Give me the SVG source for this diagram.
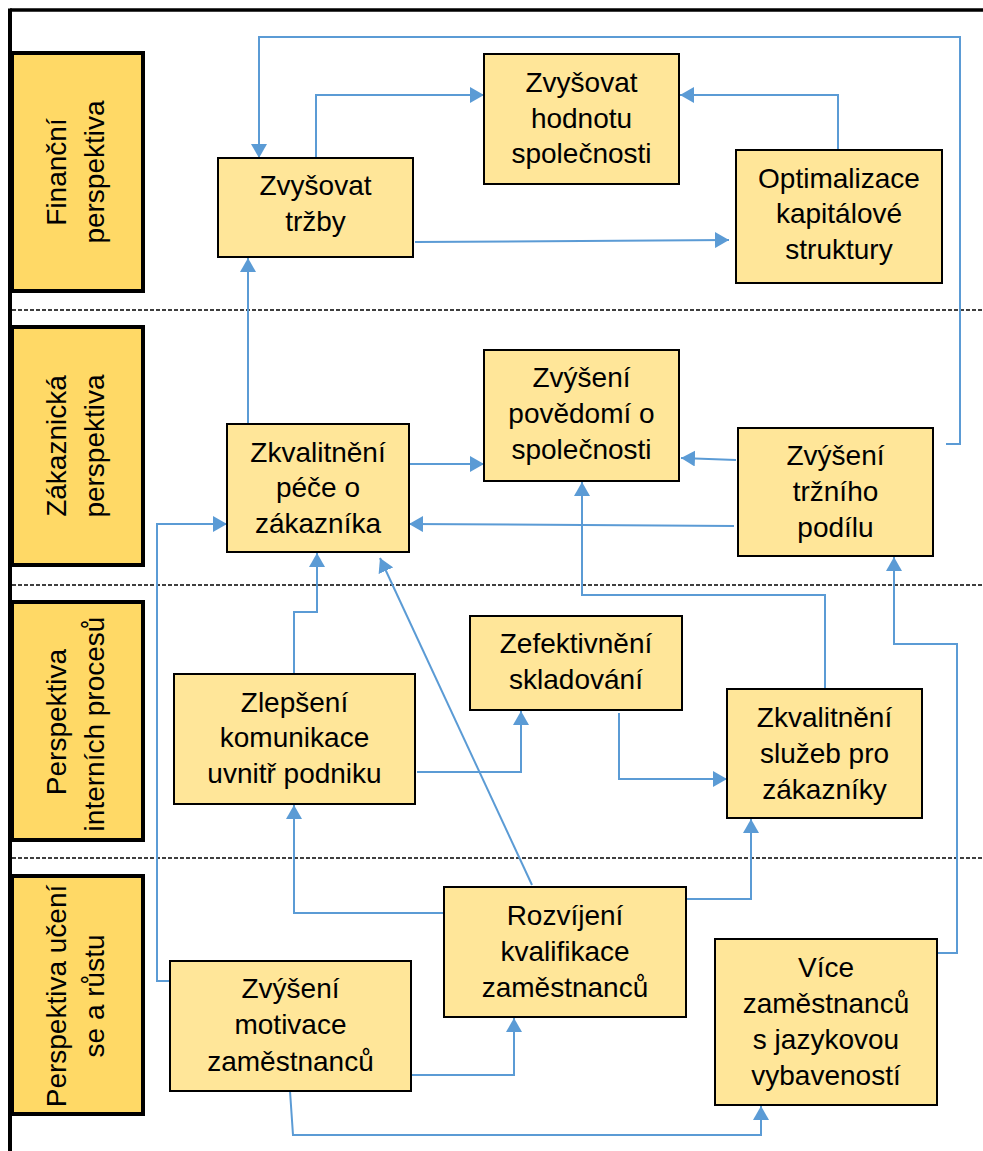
<svg xmlns="http://www.w3.org/2000/svg" width="983" height="1151" viewBox="0 0 983 1151">
  <style>
    .lane { fill: #FFD966; stroke: #000; stroke-width: 4; }
    .node rect { fill: #FFE699; stroke: #000; stroke-width: 2; }
    text { font-family: "Liberation Sans", Arial, sans-serif; font-size: 28px; fill: #000; text-anchor: middle; }
    .sep { stroke: #000; stroke-width: 1.4; stroke-dasharray: 4 2; fill: none; }
    .frame { stroke: #000; fill: none; }
    #connectors path { fill: none; stroke: #5B9BD5; stroke-width: 2; marker-end: url(#arrow); }
  </style>
  <defs>
    <marker id="arrow" viewBox="0 0 14 16" refX="14" refY="8" markerWidth="14" markerHeight="16" markerUnits="userSpaceOnUse" orient="auto">
      <path d="M0,0 L14,8 L0,16 z" fill="#5B9BD5"/>
    </marker>
  </defs>
  <rect width="983" height="1151" fill="#fff"/>

  <!-- outer frame -->
  <line class="frame" x1="10" y1="10" x2="983" y2="10" stroke-width="3.5"/>
  <line class="frame" x1="10" y1="8.5" x2="10" y2="1151" stroke-width="4"/>

  <!-- dashed lane separators -->
  <line class="sep" x1="12" y1="310" x2="983" y2="310"/>
  <line class="sep" x1="12" y1="585" x2="983" y2="585"/>
  <line class="sep" x1="12" y1="858" x2="983" y2="858"/>

  <!-- perspective labels -->
  <g id="lane-financni">
    <rect class="lane" x="12" y="53" width="131" height="238"/>
    <text transform="translate(66,172) rotate(-90)">Finanční</text>
    <text transform="translate(104,172) rotate(-90)">perspektiva</text>
  </g>
  <g id="lane-zakaznicka">
    <rect class="lane" x="12" y="327" width="131" height="238"/>
    <text transform="translate(66,446) rotate(-90)">Zákaznická</text>
    <text transform="translate(104,446) rotate(-90)">perspektiva</text>
  </g>
  <g id="lane-interni">
    <rect class="lane" x="12" y="602" width="131" height="238"/>
    <text transform="translate(66,722) rotate(-90)">Perspektiva</text>
    <text transform="translate(104,724) rotate(-90)">interních procesů</text>
  </g>
  <g id="lane-uceni">
    <rect class="lane" x="12" y="876" width="131" height="238"/>
    <text transform="translate(66,996) rotate(-90)">Perspektiva učení</text>
    <text transform="translate(104,996) rotate(-90)">se a růstu</text>
  </g>

  <!-- connectors -->
  <g id="connectors">
    <path d="M946,444 H960 V37 H259 V158"/>
    <path d="M316,158 V95 H484"/>
    <path d="M415,242 L729,240"/>
    <path d="M838,150 V95 H680"/>
    <path d="M248,424 V258"/>
    <path d="M409,464 H484"/>
    <path d="M736,460 L681,458"/>
    <path d="M734,526 L409,524"/>
    <path d="M170,981 H157 V524 H227"/>
    <path d="M294,674 V612 H317 V553"/>
    <path d="M532,885 L380,558"/>
    <path d="M825,689 V595 H582 V482"/>
    <path d="M937,953 H957 V644 H894 V557"/>
    <path d="M417,772 H521 V711"/>
    <path d="M619,713 V779 H727"/>
    <path d="M444,913 H294 V805"/>
    <path d="M685,899 H751 V819"/>
    <path d="M411,1075 H514 V1018"/>
    <path d="M290,1091 L293,1135 H761 V1106"/>
  </g>

  <!-- nodes -->
  <g id="n-trzby" class="node">
    <rect x="218" y="158" width="195" height="99"/>
    <text x="315.5" y="195">Zvyšovat</text>
    <text x="315.5" y="231">tržby</text>
  </g>
  <g id="n-hodnota" class="node">
    <rect x="484" y="54" width="195" height="130"/>
    <text x="581.5" y="92">Zvyšovat</text>
    <text x="581.5" y="128">hodnotu</text>
    <text x="581.5" y="163">společnosti</text>
  </g>
  <g id="n-kapital" class="node">
    <rect x="736" y="150" width="206" height="133"/>
    <text x="839" y="188">Optimalizace</text>
    <text x="839" y="223">kapitálové</text>
    <text x="839" y="259">struktury</text>
  </g>
  <g id="n-pece" class="node">
    <rect x="227" y="424" width="182" height="128"/>
    <text x="318" y="462">Zkvalitnění</text>
    <text x="318" y="497">péče o</text>
    <text x="318" y="533">zákazníka</text>
  </g>
  <g id="n-povedomi" class="node">
    <rect x="484" y="350" width="195" height="131"/>
    <text x="581.5" y="387">Zvýšení</text>
    <text x="581.5" y="423">povědomí o</text>
    <text x="581.5" y="459">společnosti</text>
  </g>
  <g id="n-podil" class="node">
    <rect x="738" y="428" width="195" height="128"/>
    <text x="835.5" y="465">Zvýšení</text>
    <text x="835.5" y="501">tržního</text>
    <text x="835.5" y="537">podílu</text>
  </g>
  <g id="n-komunikace" class="node">
    <rect x="174" y="674" width="241" height="130"/>
    <text x="294.5" y="712">Zlepšení</text>
    <text x="294.5" y="747">komunikace</text>
    <text x="294.5" y="783">uvnitř podniku</text>
  </g>
  <g id="n-skladovani" class="node">
    <rect x="470" y="616" width="212" height="94"/>
    <text x="576" y="653">Zefektivnění</text>
    <text x="576" y="689">skladování</text>
  </g>
  <g id="n-sluzby" class="node">
    <rect x="727" y="689" width="195" height="129"/>
    <text x="824.5" y="727">Zkvalitnění</text>
    <text x="824.5" y="763">služeb pro</text>
    <text x="824.5" y="799">zákazníky</text>
  </g>
  <g id="n-kvalifikace" class="node">
    <rect x="444" y="887" width="242" height="130"/>
    <text x="565" y="925">Rozvíjení</text>
    <text x="565" y="961">kvalifikace</text>
    <text x="565" y="997">zaměstnanců</text>
  </g>
  <g id="n-motivace" class="node">
    <rect x="170" y="961" width="241" height="130"/>
    <text x="290.5" y="998">Zvýšení</text>
    <text x="290.5" y="1034">motivace</text>
    <text x="290.5" y="1071">zaměstnanců</text>
  </g>
  <g id="n-jazyky" class="node">
    <rect x="715" y="939" width="222" height="166"/>
    <text x="826" y="977">Více</text>
    <text x="826" y="1013">zaměstnanců</text>
    <text x="826" y="1049">s jazykovou</text>
    <text x="826" y="1085">vybaveností</text>
  </g>
</svg>
